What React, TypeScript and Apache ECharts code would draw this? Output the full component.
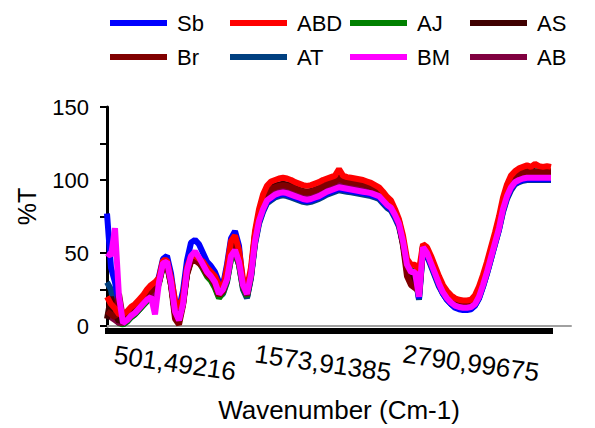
import React, { useEffect, useRef } from "react";
import * as echarts from "echarts";

// x positions: category index (4 px steps); wavenumber tick labels at given indices
const pointCount = 112;
const axisCount = 117;
const categories: string[] = Array.from({ length: axisCount }, (_, i) => String(i));
const tickIndex = [17, 54, 91];
const tickLabels = ["501,49216", "1573,91385", "2790,99675"];

const seriesNames = ["Sb", "ABD", "AJ", "AS", "Br", "AT", "BM", "AB"];
const seriesColors = ["#0000FF", "#FF0000", "#008000", "#400000", "#800000", "#004080", "#FF00FF", "#800040"];
// legend grid: 2 rows x 4 columns
const legendRows = [["Sb", "ABD", "AJ", "AS"], ["Br", "AT", "BM", "AB"]];

const Sb = [77,40,30,15,3,5,8,10,13,16,19,22,25,34,46,48,36,16,12,24,45,57,59,56,50,44,41,37,30,28,42,60,65,55,27,20,34,57,71,79,85,87,89,90,90.5,90,89,88,87,86,85.5,86,87,88,89.5,91,92,93,94,93.5,93,92.5,92,91.5,91,90.5,90,89,88,85,82,80,75,69,57,41,36,36,19,53,49,42,35,28,22,18,15,12.5,11.5,11,11,11.5,14,19,27,36,46,56,66,79,88,94,97.5,99,100,100.5,100.5,100.5,100.5,100.5,100.5,100.5];
const ABD = [20,15,12,8,8,10,13,15,18,21,25,28,30,33,45,45,33,18,12,20,40,48,48,46,44,40,37,34,28,26,40,58,62,52,32,26,40,65,80,90,96,99,100,101,101.5,101,100,98.5,97.5,96.5,96,96.5,97.5,98.5,100,101,102,103,107.5,103,102,101.5,101,100.5,100,99,98,96.5,95,92,88.5,86,80,73,62,46,42,42,38,56,54,48,41,34,28,24,21,19,18,17.5,17.5,18,21,27,35,44,54,64,75,88,97,103,106,108,109,110,109,111,109.5,109,109.5,109];
const AJ = [10,8,5,2,1,3,6,8,11,14,17,19,22,29,41,42,28,9,5,15,36,45,47,44,39,34,31,26,19,23,31,46,50,42,26,20,34,58,73,82,88,90,92,93,93.5,93,92,91,90,89,88.5,89,90,91,92.5,94,95,96,97,96.5,96,95.5,95,94.5,94,93,92.5,91.5,90.5,87.5,84.5,82,77,71,59,43,38,38,21,54,51,44,37,30,24,20,17,15,14,13.5,13.5,14,16,21,29,38,48,58,68,81,90,96,99.5,100.5,101.5,102,102,102,102,102,102,102];
const AS = [5,20,8,3,6,8,11,13,16,19,22,25,27,31,42,43,30,8,3,16,36,45,46,44,41,36,34,29,22,24,37,55,57,47,29,23,37,63,77,86,92,95,96,97,97.5,97,96,94.5,93.5,92.5,92,92.5,93.5,94.5,96,97.5,98.5,99.5,103,100,99.5,99,98.5,98,97.5,96.5,95.5,94,92.5,89,86,83,77,70,57,38,32,30,28,55,53,46,39,32,26,22,19,17,16,15.5,15.5,16,19,25,33,42,52,62,73,85,94,100,103,104.5,105.5,106,106.5,106,106,106,106,106];
const Br = [10,8,6,22,5,8,10,12,15,18,21,24,26,30,41,42,28,5,1,14,35,44,45,43,40,35,33,28,21,24,36,54,58,48,30,22,36,62,76,85,91,94,95,96,96.5,96,95,94,93,92,91.5,92,93,94,95.5,97,98,99,101,99.5,99,98.5,98,97.5,97,96.5,95.5,94,92.5,89,86,83,78,71,55,34,28,26,24,55,52,45,38,31,25,21,18,16,15,14.5,14.5,15,18,24,32,41,51,61,72,84,93,99,102.5,104,105,105.5,105.5,105.5,105.5,105.5,105.5,105.5];
const AT = [30,25,10,3,1,3,6,8,11,14,17,19,22,30,42,43,30,12,8,17,36,46,48,45,40,35,32,27,20,22,30,46,50,42,25,19,33,56,70,78,84,86,88,89,89.5,89,88,87,86,85,84.5,85,86,87,88.5,90,91,92,93,92.5,92,91.5,91,90.5,90,89.5,89,88,87,84,81,79,74,68,56,40,35,35,18,52,48,41,34,27,22,18,15,13,12,11.5,11.5,12,14,19,27,36,46,56,66,78,87,93,97,98.5,99.5,100,100,100,100,100,100,100];
const BM = [50,48,67,20,2,4,7,9,12,15,18,20,8,30,43,44,30,10,4,15,38,48,51,47,42,37,34,30,22,25,32,48,52,44,28,22,35,58,72,80,86,88,90,91,91.5,91,90,89,88,87,86.5,87,88,89,90.5,92,93,94,95,94.5,94,93.5,93,92.5,92,91.5,91,90,89,86,83,81,76,70,58,42,37,37,20,54,50,43,36,29,23,19,16,14,13,12.5,12.5,13,15,20,28,37,47,57,67,80,89,95,98.5,100,101,101.5,101.5,101.5,101.5,101.5,101.5,101.5];
const AB = [8,6,4,2,2,4,7,9,12,15,18,21,23,30,42,43,29,9,4,15,37,47,50,46,41,36,33,29,21,24,32,48,51,43,27,21,35,59,74,83,89,91,93,94,94.5,94,93,92,91,90,89.5,90,91,92,93.5,95,96,97,98.5,97.5,97,96.5,96,95.5,95,94.5,94,93,91.5,88.5,85.5,83,78,72,59,42,37,36,22,54,51,44,37,30,24,20,17,15,14,13.5,13.5,14,16,21,29,38,48,58,68,81,90,96,100,101.5,103,103.5,103.5,103.5,103.5,103.5,103.5,103.5];

const seriesData = [Sb, ABD, AJ, AS, Br, AT, BM, AB];
// drawing order (higher = on top)
const seriesZ = [3, 9, 4, 7, 8, 2, 10, 5];

const FONT = "'Liberation Sans', Arial, sans-serif";

export default function App() {
  const ref = useRef<HTMLDivElement>(null);
  useEffect(() => {
    if (!ref.current) return;
    const chart = echarts.init(ref.current, undefined, { renderer: "svg" });
    const legends: any[] = [];
    legendRows.forEach((row, r) => {
      row.forEach((name, c) => {
        legends.push({
          data: [name],
          left: 110 + 120 * c,
          top: 12 + 34 * r,
          padding: 0,
          itemGap: 0,
          itemWidth: 57,
          itemHeight: 6,
          icon: "rect",
          selectedMode: false,
          textStyle: { fontSize: 22, color: "#000", fontFamily: FONT, padding: [0, 0, 0, 5] },
        });
      });
    });
    chart.setOption({
      animation: false,
      backgroundColor: "#fff",
      legend: legends,
      grid: { left: 107, right: 24, top: 107, bottom: 99, containLabel: false },
      xAxis: [
        {
          type: "category",
          data: categories,
          boundaryGap: false,
          axisLine: { show: true, lineStyle: { color: "#a0a0a0", width: 2 } },
          axisTick: { show: false },
          splitLine: { show: false },
          axisLabel: {
            interval: (i: number) => tickIndex.includes(i),
            formatter: (_v: string, i: number) => {
              const k = tickIndex.indexOf(i);
              return k >= 0 ? tickLabels[k] : "";
            },
            rotate: -8,
            align: "center",
            verticalAlign: "middle",
            margin: 37,
            fontSize: 26,
            color: "#000",
            fontFamily: FONT,
          },
          name: "Wavenumber (Cm-1)",
          nameLocation: "middle",
          nameGap: 71,
          nameTextStyle: { fontSize: 26, color: "#000", fontFamily: FONT },
        },
        {
          type: "category",
          data: categories,
          boundaryGap: false,
          position: "bottom",
          offset: 2,
          axisLine: { show: false },
          axisLabel: { show: false },
          splitLine: { show: false },
          axisTick: {
            show: true,
            interval: (i: number) => i < pointCount,
            length: 6,
            lineStyle: { color: "#000", width: 4 },
          },
        },
      ],
      yAxis: {
        type: "value",
        min: 0,
        max: 150,
        interval: 25,
        axisLine: { show: true, lineStyle: { color: "#000", width: 3 } },
        axisTick: { show: true, length: 7, lineStyle: { color: "#000", width: 2 } },
        splitLine: { show: false },
        axisLabel: {
          formatter: (v: number) => (v % 50 === 0 ? String(v) : ""),
          fontSize: 22,
          margin: 18,
          color: "#000",
          fontFamily: FONT,
        },
        name: "%T",
        nameLocation: "middle",
        nameGap: 68,
        nameTextStyle: { fontSize: 25, color: "#000", fontFamily: FONT, padding: [0, 0, 0, 20] },
      },
      series: seriesNames.map((name, k) => ({
        name,
        type: "line",
        xAxisIndex: 0,
        data: seriesData[k],
        symbol: "none",
        showSymbol: false,
        z: seriesZ[k],
        color: seriesColors[k],
        lineStyle: { width: 6, color: seriesColors[k] },
        itemStyle: { color: seriesColors[k] },
        silent: true,
      })),
    });
    return () => chart.dispose();
  }, []);
  return <div ref={ref} style={{ position: "fixed", left: 0, top: 0, width: 595, height: 428 }} />;
}
